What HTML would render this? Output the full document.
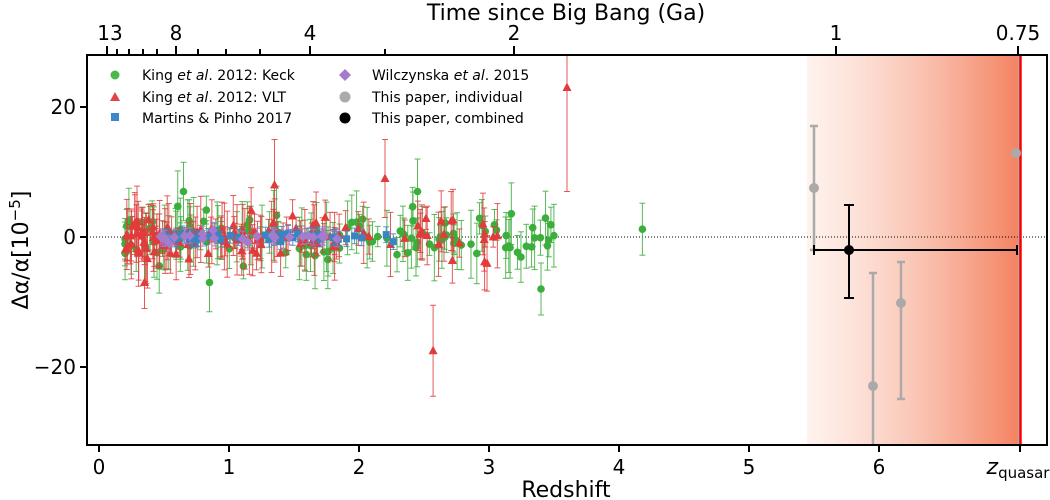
<!DOCTYPE html>
<html><head><meta charset="utf-8"><style>
body{margin:0;background:#fff}
svg{display:block;font-family:"DejaVu Sans","Liberation Sans",sans-serif}
</style></head><body>
<svg id="s" width="1050" height="500" viewBox="0 0 1050 500">
<defs><linearGradient id="g" x1="0" x2="1"><stop offset="0" stop-color="#fde6dc" stop-opacity="0.5"/><stop offset="1" stop-color="#f4815f"/></linearGradient>
<clipPath id="c"><rect x="87" y="55" width="960" height="390"/></clipPath></defs>
<rect x="807" y="55" width="213" height="390" fill="url(#g)"/>
<line x1="87" y1="237" x2="1047" y2="237" stroke="#000" stroke-width="1" stroke-dasharray="1,2"/>
<g id="pts" clip-path="url(#c)"></g>
<line x1="1019" y1="55" x2="1019" y2="445" stroke="#aaa" stroke-width="2.5"/>
<line x1="1020.5" y1="55" x2="1020.5" y2="445" stroke="#f00" stroke-width="2.5"/>
<g stroke="#aaa" stroke-width="2.5" fill="#aaa">
<line x1="814" y1="126" x2="814" y2="250"/><line x1="810" y1="126" x2="818" y2="126"/><line x1="810" y1="250" x2="818" y2="250"/><circle cx="814" cy="188" r="5" stroke="none"/>
<line x1="873" y1="273" x2="873" y2="445"/><line x1="869" y1="273" x2="877" y2="273"/><circle cx="873" cy="386" r="5" stroke="none"/>
<line x1="901" y1="262" x2="901" y2="399"/><line x1="897" y1="262" x2="905" y2="262"/><line x1="897" y1="399" x2="905" y2="399"/><circle cx="901" cy="303" r="5" stroke="none"/>
<circle cx="1016" cy="153" r="5" stroke="none"/>
</g>
<g stroke="#000" stroke-width="2">
<line x1="814" y1="250" x2="1017" y2="250"/><line x1="814" y1="245" x2="814" y2="255"/><line x1="1017" y1="245" x2="1017" y2="255"/>
<line x1="849" y1="205" x2="849" y2="298"/><line x1="844" y1="205" x2="854" y2="205"/><line x1="844" y1="298" x2="854" y2="298"/>
<circle cx="849" cy="250" r="5" fill="#000" stroke="none"/>
</g>
<rect x="87" y="55" width="960" height="390" fill="none" stroke="#000" stroke-width="2"/>
<g stroke="#000" stroke-width="2">
<line x1="99" y1="445" x2="99" y2="452"/><line x1="229" y1="445" x2="229" y2="452"/><line x1="359" y1="445" x2="359" y2="452"/><line x1="489" y1="445" x2="489" y2="452"/><line x1="619" y1="445" x2="619" y2="452"/><line x1="749" y1="445" x2="749" y2="452"/><line x1="879" y1="445" x2="879" y2="452"/><line x1="1020" y1="445" x2="1020" y2="452"/>
<line x1="80" y1="107" x2="87" y2="107"/><line x1="80" y1="237" x2="87" y2="237"/><line x1="80" y1="367" x2="87" y2="367"/>
<line x1="107" y1="55" x2="107" y2="46"/><line x1="117" y1="55" x2="117" y2="49"/><line x1="129" y1="55" x2="129" y2="49"/><line x1="143" y1="55" x2="143" y2="49"/><line x1="157" y1="55" x2="157" y2="49"/><line x1="176" y1="55" x2="176" y2="46"/><line x1="198" y1="55" x2="198" y2="49"/><line x1="226" y1="55" x2="226" y2="49"/><line x1="260" y1="55" x2="260" y2="49"/><line x1="310" y1="55" x2="310" y2="46"/><line x1="385" y1="55" x2="385" y2="49"/><line x1="514" y1="55" x2="514" y2="46"/><line x1="836" y1="55" x2="836" y2="46"/><line x1="1018" y1="55" x2="1018" y2="46"/>
</g>
<g font-size="20" text-anchor="middle">
<text x="99" y="474">0</text><text x="229" y="474">1</text><text x="359" y="474">2</text><text x="489" y="474">3</text><text x="619" y="474">4</text><text x="749" y="474">5</text><text x="879" y="474">6</text>
<text x="1018" y="474"><tspan font-style="italic" font-size="22">z</tspan><tspan font-size="15" dy="4">quasar</tspan></text>
<text x="566" y="497" font-size="22">Redshift</text>
<text x="566" y="20" font-size="22">Time since Big Bang (Ga)</text>
<text x="110" y="40">13</text><text x="176" y="40">8</text><text x="310" y="40">4</text><text x="514" y="40">2</text><text x="836" y="40">1</text><text x="1018" y="40">0.75</text>
</g>
<g font-size="20" text-anchor="end">
<text x="76" y="114">20</text><text x="76" y="244">0</text><text x="76" y="374">−20</text>
</g>
<text transform="translate(28,250) rotate(-90)" font-size="22" text-anchor="middle">Δα/α[10<tspan font-size="15" dy="-8">−5</tspan><tspan dy="8">]</tspan></text>
<g font-size="14">
<circle cx="115" cy="75" r="4.5" fill="#4cb84c"/><text x="142" y="80">King <tspan font-style="italic">et al</tspan>. 2012: Keck</text>
<polygon points="115,92 120,101 110,101" fill="#e04444"/><text x="142" y="102">King <tspan font-style="italic">et al</tspan>. 2012: VLT</text>
<rect x="111" y="113" width="8" height="8" fill="#3f88c8"/><text x="142" y="123">Martins &amp; Pinho 2017</text>
<polygon points="345,69 351,75 345,81 339,75" fill="#a57bcb"/><text x="372" y="80">Wilczynska <tspan font-style="italic">et al</tspan>. 2015</text>
<circle cx="345" cy="97" r="5.5" fill="#aaa"/><text x="372" y="102">This paper, individual</text>
<circle cx="345" cy="118" r="5.5" fill="#000"/><text x="372" y="123">This paper, combined</text>
</g>
</svg>
<script>
var seed=11;function r(){seed=(seed*16807)%2147483647;return seed/2147483647;}
function n(){return (r()+r()+r()+r()+r()+r()-3);}
var g=document.getElementById('pts'),h='';
function X(z){return 99+130*z}function Y(v){return 237-6.5*v}
function pt(z,v,e,col,shape){var x=X(z),y=Y(v),y1=Y(v+e),y2=Y(v-e);
h+='<g stroke="'+col+'" stroke-opacity="0.85" stroke-width="1"><line x1="'+x+'" y1="'+y1+'" x2="'+x+'" y2="'+y2+'"/><line x1="'+(x-3)+'" y1="'+y1+'" x2="'+(x+3)+'" y2="'+y1+'"/><line x1="'+(x-3)+'" y1="'+y2+'" x2="'+(x+3)+'" y2="'+y2+'"/></g>';
if(shape=='c')h+='<circle cx="'+x+'" cy="'+y+'" r="3.8" fill="'+col+'"/>';
else if(shape=='t')h+='<polygon points="'+x+','+(y-5)+' '+(x+4.5)+','+(y+3.5)+' '+(x-4.5)+','+(y+3.5)+'" fill="'+col+'"/>';
else if(shape=='s')h+='<rect x="'+(x-3.5)+'" y="'+(y-3.5)+'" width="7" height="7" fill="'+col+'"/>';
else h+='<polygon points="'+x+','+(y-5)+' '+(x+5)+','+y+' '+x+','+(y+5)+' '+(x-5)+','+y+'" fill="'+col+'"/>';}
for(var i=0;i<130;i++){var z=0.2+Math.pow(r(),1.2)*3.3;pt(z,n()*2.6,1.5+r()*4,'#3cae3c','c');}
pt(4.18,1.2,4,'#3cae3c','c');pt(0.65,7,4.5,'#3cae3c','c');pt(3.4,-8,4,'#3cae3c','c');pt(0.85,-7,4.5,'#3cae3c','c');pt(2.45,7,5,'#3cae3c','c');pt(0.23,2.5,5,'#3cae3c','c');
for(var i=0;i<130;i++){var z=0.2+Math.pow(r(),1.5)*2.9;pt(z,n()*2.3,1.5+r()*4,'#e03c3c','t');}
pt(3.6,23,16,'#e03c3c','t');pt(2.57,-17.5,7,'#e03c3c','t');pt(1.35,8,7,'#e03c3c','t');pt(0.35,-7,4,'#e03c3c','t');pt(2.2,9,6,'#e03c3c','t');
for(var i=0;i<40;i++){var z=0.4+r()*1.9;pt(z,n()*0.5,1.2,'#3a84c4','s');}
for(var i=0;i<25;i++){var z=0.45+r()*1.6;pt(z,n()*0.6,1.2,'#a57bcb','d');}
g.innerHTML=h;
</script>
</body></html>
